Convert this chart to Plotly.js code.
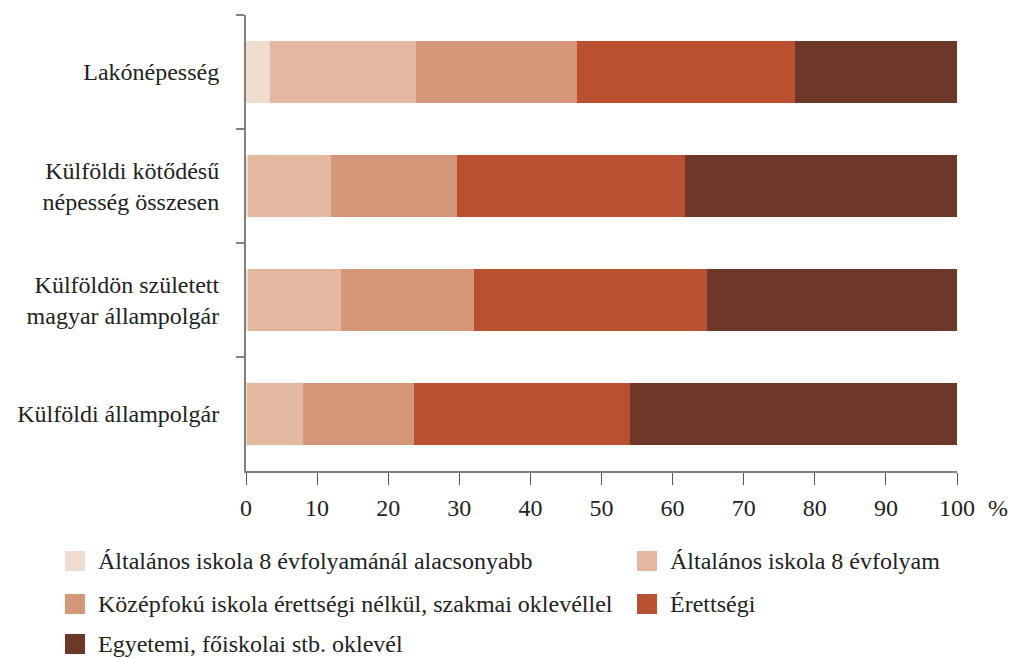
<!DOCTYPE html>
<html>
<head>
<meta charset="utf-8">
<script src="https://cdn.plot.ly/plotly-3.0.1.min.js"></script>
<style>html,body{margin:0;padding:0;background:#fff;}#chart{width:1013px;height:659px;}</style>
</head>
<body>
<div id="chart"></div>
<script>
const categories = ["Lakónépesség", "Külföldi kötődésű<br>népesség összesen", "Külföldön született<br>magyar állampolgár", "Külföldi állampolgár"];
const seriesNames = ["Általános iskola 8 évfolyamánál alacsonyabb", "Általános iskola 8 évfolyam", "Középfokú iskola érettségi nélkül, szakmai oklevéllel", "Érettségi", "Egyetemi, főiskolai stb. oklevél"];
const belowPrimary = [3.4, 0.3, 0.3, 0.2];
const primary = [20.5, 11.7, 13.1, 7.8];
const vocational = [22.6, 17.7, 18.7, 15.6];
const secondary = [30.7, 32.0, 32.7, 30.4];
const tertiary = [22.8, 38.3, 35.2, 46.0];
const xTicks = [0, 10, 20, 30, 40, 50, 60, 70, 80, 90, 100];
const colors = ["#F0DDD0", "#E2B8A0", "#D5977A", "#B95131", "#6E3828"];

const values = [belowPrimary, primary, vocational, secondary, tertiary];
const font = "'Liberation Serif', 'DejaVu Serif', serif";
const FS = 24;
const traces = values.map((v, i) => ({
  type: "bar", orientation: "h", x: v, y: categories, name: seriesNames[i],
  marker: {color: colors[i], line: {width: 0}}, hoverinfo: "x+name", showlegend: false
}));

// plot area geometry (px) for placing the custom legend
const W = 1013, H = 659, mL = 246, mR = 56, mT = 15, mB = 188;
const pw = W - mL - mR, ph = H - mT - mB;
const px2x = px => (px - mL) / pw;
const py2y = py => (H - mB - py) / ph;
const legendCols = [65, 637];
const legendRows = [561, 604, 644];
const shapes = [], annotations = [];
seriesNames.forEach((name, i) => {
  const cx = legendCols[i % 2], cy = legendRows[Math.floor(i / 2)];
  shapes.push({type: "rect", xref: "paper", yref: "paper", x0: px2x(cx), x1: px2x(cx + 20),
    y0: py2y(cy + 10), y1: py2y(cy - 10), fillcolor: colors[i], line: {width: 0}});
  annotations.push({text: name, xref: "paper", yref: "paper", x: px2x(cx + 31), y: py2y(cy),
    xanchor: "left", yanchor: "middle", showarrow: false, font: {family: font, size: FS, color: "#222"}});
});
annotations.push({text: "%", xref: "paper", yref: "paper", x: px2x(998), y: py2y(508), showarrow: false,
  xanchor: "center", yanchor: "middle", font: {family: font, size: FS, color: "#222"}});

const layout = {
  width: W, height: H,
  margin: {l: mL, r: mR, t: mT, b: mB, autoexpand: false},
  barmode: "stack", bargap: 0.45,
  paper_bgcolor: "#fff", plot_bgcolor: "#fff",
  font: {family: font, size: FS, color: "#222"},
  showlegend: false,
  xaxis: {range: [0, 100], tickvals: xTicks, ticktext: xTicks.map(String), showgrid: false, zeroline: false,
    showline: true, linecolor: "#808080", linewidth: 2, ticks: "outside", ticklen: 12, tickwidth: 1, tickcolor: "#555",
    ticklabelstandoff: 2, tickfont: {family: font, size: FS, color: "#222"}},
  yaxis: {type: "category", autorange: "reversed", tickson: "boundaries", showgrid: false, zeroline: false,
    showline: true, linecolor: "#808080", linewidth: 2, ticks: "outside", ticklen: 8, tickwidth: 2, tickcolor: "#808080",
    ticklabelstandoff: 20, tickfont: {family: font, size: FS, color: "#222"}},
  shapes: shapes,
  annotations: annotations
};
Plotly.newPlot("chart", traces, layout, {displayModeBar: false, staticPlot: true});
</script>
</body>
</html>
